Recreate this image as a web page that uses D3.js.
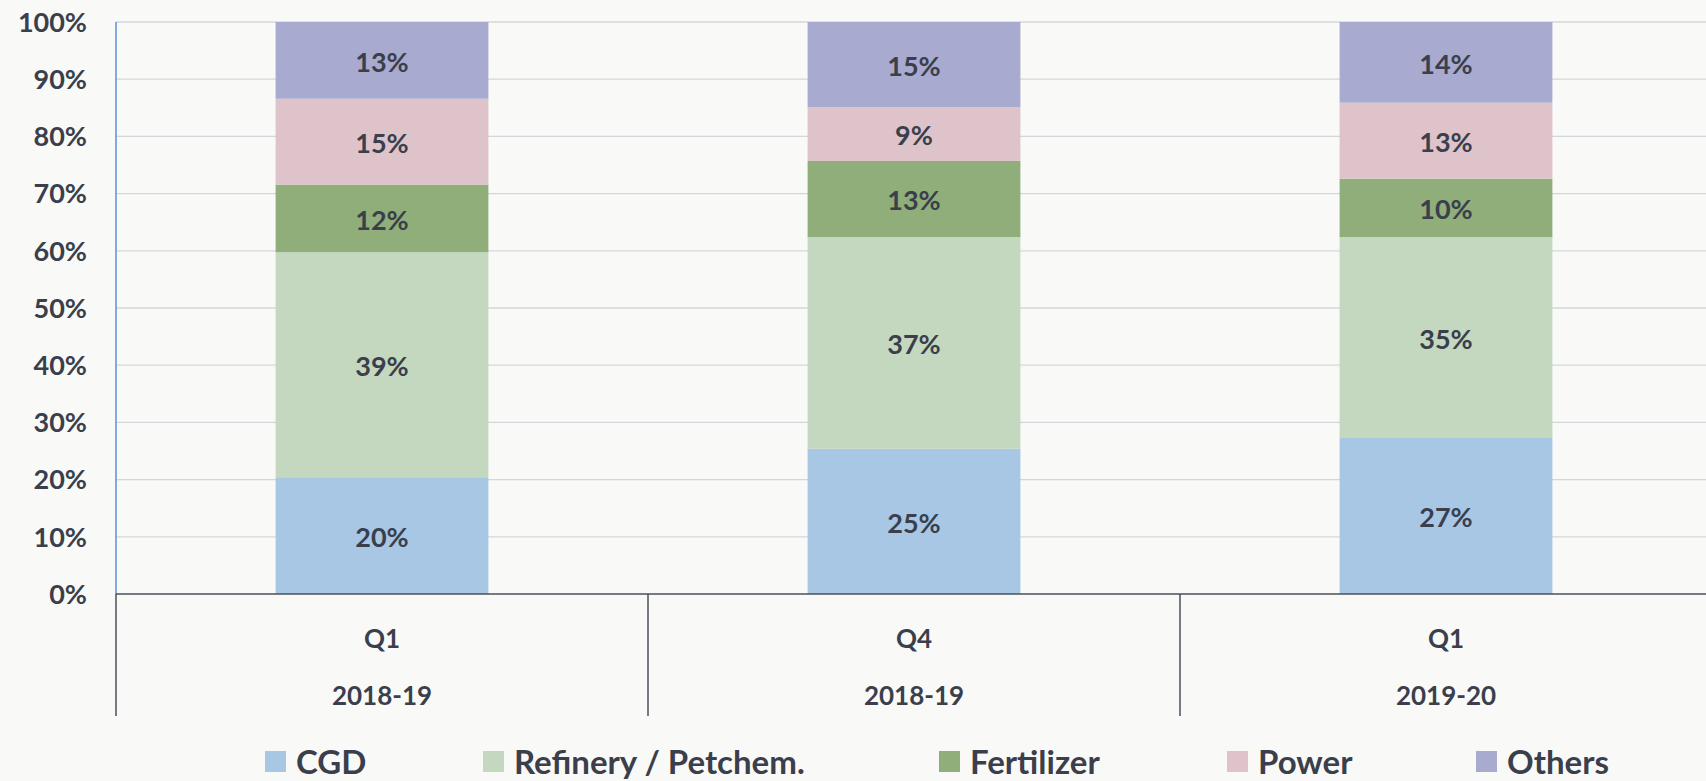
<!DOCTYPE html>
<html lang="en">
<head>
    <meta charset="UTF-8">
    <title>Consumption share</title>
    <style>
        body {
            margin: 0;
            background-color: #f9faf8;
        }
        svg text {
            font-family: Lato, "Open Sans", sans-serif;
            font-weight: bold;
            fill: #3b3f4c;
        }
    </style>
</head>
<body>
<script src="https://cdnjs.cloudflare.com/ajax/libs/d3/7.8.5/d3.min.js"></script>
<script>

    // data (share in %)
    let quarters = ["Q1", "Q4", "Q1"]
    let years = ["2018-19", "2018-19", "2019-20"]
    let sectors = ["CGD", "Refinery / Petchem.", "Fertilizer", "Power", "Others"]
    let cgd = [20.4, 25.4, 27.4]
    let refinery = [39.3, 37.0, 35.0]
    let fertilizer = [11.8, 13.3, 10.2]
    let power = [15.0, 9.4, 13.3]
    let others = [13.4, 14.9, 14.1]
    let colors = ["#a7c7e5", "#c4d8bf", "#8fae79", "#dec4ca", "#a9aacf"]
    let yTicks = [0, 0.1, 0.2, 0.3, 0.4, 0.5, 0.6, 0.7, 0.8, 0.9, 1]

    let width = 1706
    let height = 781
    let plotLeft = 116, plotTop = 22, plotBottom = 594
    let step = 532

    let rows = quarters.map((q, i) => ({
        key: i,
        "CGD": cgd[i],
        "Refinery / Petchem.": refinery[i],
        "Fertilizer": fertilizer[i],
        "Power": power[i],
        "Others": others[i]
    }))

    let stack = d3.stack().keys(sectors).offset(d3.stackOffsetExpand)
    let series = stack(rows)

    let svg = d3.select("body").append("svg")
        .attr("width", width)
        .attr("height", height)

    let x = d3.scaleBand()
        .domain(d3.range(quarters.length))
        .range([plotLeft, plotLeft + step * quarters.length])
        .paddingInner(0.6)
        .paddingOuter(0.3)

    let y = d3.scaleLinear()
        .domain([0, 1])
        .range([plotBottom, plotTop])

    let c = d3.scaleOrdinal(sectors, colors)

    // gridlines
    svg.append("g")
        .selectAll("line")
        .data(yTicks.slice(1))
        .enter()
        .append("line")
            .attr("x1", plotLeft)
            .attr("x2", width)
            .attr("y1", d => y(d))
            .attr("y2", d => y(d))
            .attr("stroke", "#d3d7db")
            .attr("stroke-width", 1.3)

    // y labels
    svg.append("g")
        .selectAll("text")
        .data(yTicks)
        .enter()
        .append("text")
            .attr("x", plotLeft - 29)
            .attr("y", d => y(d))
            .attr("dy", "0.36em")
            .attr("text-anchor", "end")
            .style("font-size", "27px")
            .text(d3.format(".0%"))

    // bars
    let groups = svg.append("g")
        .selectAll("g")
        .data(series)
        .enter()
        .append("g")
            .attr("fill", d => c(d.key))

    groups.selectAll("rect")
        .data(d => d)
        .enter()
        .append("rect")
            .attr("x", d => x(d.data.key))
            .attr("width", x.bandwidth())
            .attr("y", d => y(d[1]))
            .attr("height", d => y(d[0]) - y(d[1]))

    groups.selectAll("text")
        .data(d => d.map(v => ({v: v, sector: d.key})))
        .enter()
        .append("text")
            .attr("x", d => x(d.v.data.key) + x.bandwidth() / 2)
            .attr("y", d => (y(d.v[0]) + y(d.v[1])) / 2)
            .attr("dy", "0.42em")
            .attr("text-anchor", "middle")
            .style("font-size", "27px")
            .text(d => Math.round(d.v.data[d.sector]) + "%")

    // axes lines
    svg.append("line")
        .attr("x1", plotLeft).attr("x2", plotLeft)
        .attr("y1", y(1)).attr("y2", plotBottom)
        .attr("stroke", "#5b8fd0")
        .attr("stroke-width", 1.5)

    svg.append("line")
        .attr("x1", plotLeft).attr("x2", width)
        .attr("y1", plotBottom).attr("y2", plotBottom)
        .attr("stroke", "#4a4f5a")
        .attr("stroke-width", 1.5)

    svg.append("g")
        .selectAll("line")
        .data(d3.range(quarters.length + 1))
        .enter()
        .append("line")
            .attr("x1", i => plotLeft + i * step)
            .attr("x2", i => plotLeft + i * step)
            .attr("y1", plotBottom)
            .attr("y2", 716)
            .attr("stroke", "#4a4f5a")
            .attr("stroke-width", 1.5)

    // category labels
    let catX = i => x(i) + x.bandwidth() / 2
    svg.append("g")
        .selectAll("text")
        .data(quarters)
        .enter()
        .append("text")
            .attr("x", (d, i) => catX(i))
            .attr("y", 639)
            .attr("dy", "0.36em")
            .attr("text-anchor", "middle")
            .style("font-size", "26px")
            .text(d => d)

    svg.append("g")
        .selectAll("text")
        .data(years)
        .enter()
        .append("text")
            .attr("x", (d, i) => catX(i))
            .attr("y", 696)
            .attr("dy", "0.36em")
            .attr("text-anchor", "middle")
            .style("font-size", "26px")
            .text(d => d)

    // legend
    let legendX = [265, 483, 939, 1227, 1476]
    let legend = svg.append("g")
        .selectAll("g")
        .data(sectors)
        .enter()
        .append("g")
            .attr("transform", (d, i) => `translate(${legendX[i]}, 762)`)

    legend.append("rect")
        .attr("x", 0)
        .attr("y", -11)
        .attr("width", 21)
        .attr("height", 21)
        .attr("fill", d => c(d))

    legend.append("text")
        .attr("x", 31)
        .attr("y", 0)
        .attr("dy", "0.36em")
        .style("font-size", "33px")
        .text(d => d)

</script>
</body>
</html>
